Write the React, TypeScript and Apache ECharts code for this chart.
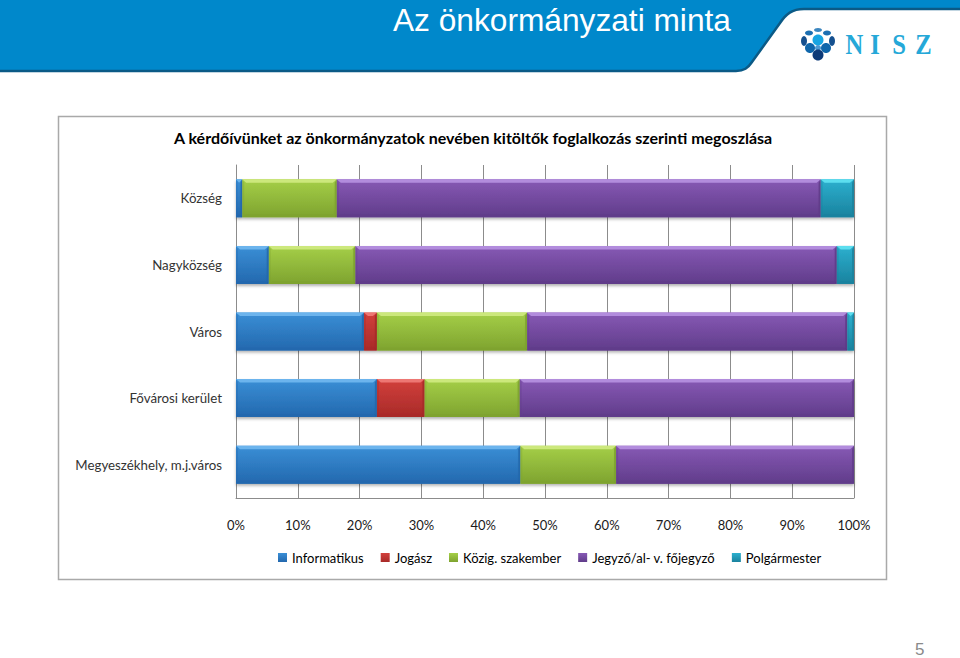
import React, { useEffect, useRef } from "react";
import * as echarts from "echarts";

const categories = ["Község", "Nagyközség", "Város", "Fővárosi kerület", "Megyeszékhely, m.j.város"];
const tickLabels = ["0%", "10%", "20%", "30%", "40%", "50%", "60%", "70%", "80%", "90%", "100%"];
const informatikus = [1.0, 5.3, 20.7, 22.8, 46.0];
const jogasz = [0, 0, 2.1, 7.7, 0];
const kozig = [15.3, 14.0, 24.3, 15.4, 15.5];
const jegyzo = [78.3, 77.9, 51.8, 54.1, 38.5];
const polgarmester = [5.4, 2.8, 1.1, 0, 0];

const seriesDefs: [string, number[], string, string, string][] = [
  ["Informatikus", informatikus, "#3a8fd6", "#2368ae", "#6fb6ee"],
  ["Jogász", jogasz, "#d2403c", "#a82a28", "#ee7a76"],
  ["Közig. szakember", kozig, "#a5cf48", "#7ea32f", "#cfe97f"],
  ["Jegyző/al- v. főjegyző", jegyzo, "#8759b5", "#603c8a", "#b48fdf"],
  ["Polgármester", polgarmester, "#2cb0cf", "#1a829e", "#5fe0f0"],
];

const headerPath =
  "M-5 -5 H965 V9 H804 C792 9 786 14 780 23 L752 62 C748 68 744 71 736 71 H-5 Z";

export default function App() {
  const ref = useRef<HTMLDivElement>(null);
  useEffect(() => {
    echarts.graphic.registerShape("hdr", echarts.graphic.extendPath(headerPath, {}) as any);
    const chart = echarts.init(ref.current!, undefined, { renderer: "svg" });
    const bars = seriesDefs.map(([name, vals, main, dark]) => ({
      name,
      type: "bar",
      stack: "total",
      barWidth: 38,
      silent: true,
      data: vals,
      itemStyle: {
        color: new echarts.graphic.LinearGradient(0, 0, 0, 1, [
          { offset: 0, color: main }, { offset: 1, color: dark },
        ]),
        shadowColor: "rgba(0,0,0,0.3)", shadowBlur: 3, shadowOffsetY: 2,
      },
    }));
    const bevelData: any[] = [];
    categories.forEach((_, ci) => {
      let acc = 0;
      seriesDefs.forEach(([, vals, , dark, light]) => {
        const v = vals[ci];
        if (v > 0) bevelData.push([acc, acc + v, ci, light, dark]);
        acc += v;
      });
    });
    const bevel = {
      type: "custom",
      silent: true,
      z: 5,
      encode: { x: [0, 1], y: 2 },
      data: bevelData,
      renderItem(p: any, api: any) {
        const a = api.coord([api.value(0), api.value(2)]);
        const b = api.coord([api.value(1), api.value(2)]);
        const x0 = a[0], x1 = b[0], t = a[1] - 19, bt = a[1] + 19;
        const d = Math.min(4, (x1 - x0) / 2);
        const light = bevelData[p.dataIndex][3], dark = bevelData[p.dataIndex][4];
        return {
          type: "group",
          children: [
            { type: "polygon", shape: { points: [[x0, t], [x1, t], [x1 - d, t + 3.5], [x0 + d, t + 3.5]] }, style: { fill: light, opacity: 0.95 } },
            { type: "polygon", shape: { points: [[x0, bt], [x1, bt], [x1 - d, bt - 3], [x0 + d, bt - 3]] }, style: { fill: dark, opacity: 0.9 } },
            { type: "polygon", shape: { points: [[x1, t], [x1, bt], [x1 - d / 2, bt - 3], [x1 - d / 2, t + 3.5]] }, style: { fill: dark, opacity: 0.85 } },
            { type: "polygon", shape: { points: [[x0, t], [x0, bt], [x0 + d / 2, bt - 3], [x0 + d / 2, t + 3.5]] }, style: { fill: dark, opacity: 0.35 } },
          ],
        };
      },
    };
    const dot = (cx: number, cy: number, rx: number, ry: number, fill: string) => ({
      type: "ellipse", silent: true, shape: { cx, cy, rx, ry }, style: { fill },
    });
    const letter = (t: string, x: number) => ({
      type: "text", silent: true, x, y: 44, scaleX: 0.85,
      style: { text: t, fill: "#25a8d8", font: "bold 29px 'Liberation Serif'", verticalAlign: "middle", align: "center" },
    });
    chart.setOption({
      animation: false,
      backgroundColor: "#ffffff",
      textStyle: { fontFamily: "Lato" },
      title: {
        text: "A kérdőívünket az önkormányzatok nevében kitöltők foglalkozás szerinti megoszlása",
        left: 169, top: 124,
        textStyle: { fontFamily: "Lato", fontSize: 16, fontWeight: "bold", color: "#000" },
      },
      legend: {
        data: seriesDefs.map((s) => s[0]),
        left: 273, top: 546,
        itemWidth: 9, itemHeight: 9, itemGap: 17,
        icon: "rect",
        textStyle: { fontFamily: "Lato", fontSize: 13, color: "#000" },
      },
      grid: { left: 236, top: 165, width: 618, height: 333 },
      xAxis: {
        type: "value", min: 0, max: 100, interval: 10,
        axisLine: { show: true, lineStyle: { color: "#8c8c8c" } },
        axisTick: { show: false },
        splitLine: { show: true, lineStyle: { color: "#8c8c8c", width: 1 } },
        axisLabel: {
          margin: 20, fontFamily: "Lato", fontSize: 13, color: "#1a1a1a",
          formatter: (v: number) => tickLabels[v / 10],
        },
      },
      yAxis: {
        type: "category", inverse: true, data: categories,
        axisLine: { show: true, lineStyle: { color: "#8c8c8c" } },
        axisTick: { show: false },
        axisLabel: { margin: 14, fontFamily: "Lato", fontSize: 13.3, color: "#333" },
      },
      series: [...bars, bevel],
      graphic: [
        { type: "rect", silent: true, z: -10, shape: { x: 58.5, y: 116.5, width: 828, height: 463 }, style: { fill: "none", stroke: "#a9a9a9", lineWidth: 1.5 } },
        { type: "hdr", silent: true, z: 10, style: { fill: "#0088cb", stroke: "#0b5a86", lineWidth: 2.5 } },
        { type: "text", silent: true, z: 11, x: 393, y: 20, scaleX: 0.99, style: { text: "Az önkormányzati minta", fill: "#fff", font: "32px 'Liberation Sans'", verticalAlign: "middle" } },
        { type: "group", z: 11, children: [
          dot(43, 7, 5.5, 4.5, "#fff"), dot(55, 13, 5.5, 4.5, "#fff"), dot(43, 19, 5.5, 4.5, "#fff"),
          dot(67, 18, 5.5, 4.5, "#fff"), dot(55, 25, 5.5, 4.5, "#fff"), dot(43, 31, 5.5, 4.5, "#fff"),
          dot(818, 30, 4, 2, "#3c86bf"), dot(809, 33, 4, 2.5, "#1c6fb2"), dot(827, 33, 4, 2.5, "#1c6fb2"),
          dot(804, 41, 3, 5, "#15508f"), dot(832, 41, 3, 5, "#15508f"),
          dot(818, 40, 5.5, 5.5, "#18a5e2"),
          dot(810, 48, 5, 5, "#0f66ab"), dot(826, 48, 5, 5, "#0f66ab"), dot(818, 48, 3, 3, "#4d9ad2"), dot(818, 55, 5.5, 5.5, "#0d3a78"),
          letter("N", 854.5), letter("I", 875), letter("S", 899), letter("Z", 923.5),
        ] },
        { type: "text", silent: true, x: 915, y: 649, style: { text: "5", fill: "#8a8a8a", font: "17px 'Liberation Sans'", verticalAlign: "middle" } },
      ],
    } as any);
    return () => chart.dispose();
  }, []);
  return <div ref={ref} style={{ position: "fixed", left: 0, top: 0, width: 960, height: 658 }} />;
}
